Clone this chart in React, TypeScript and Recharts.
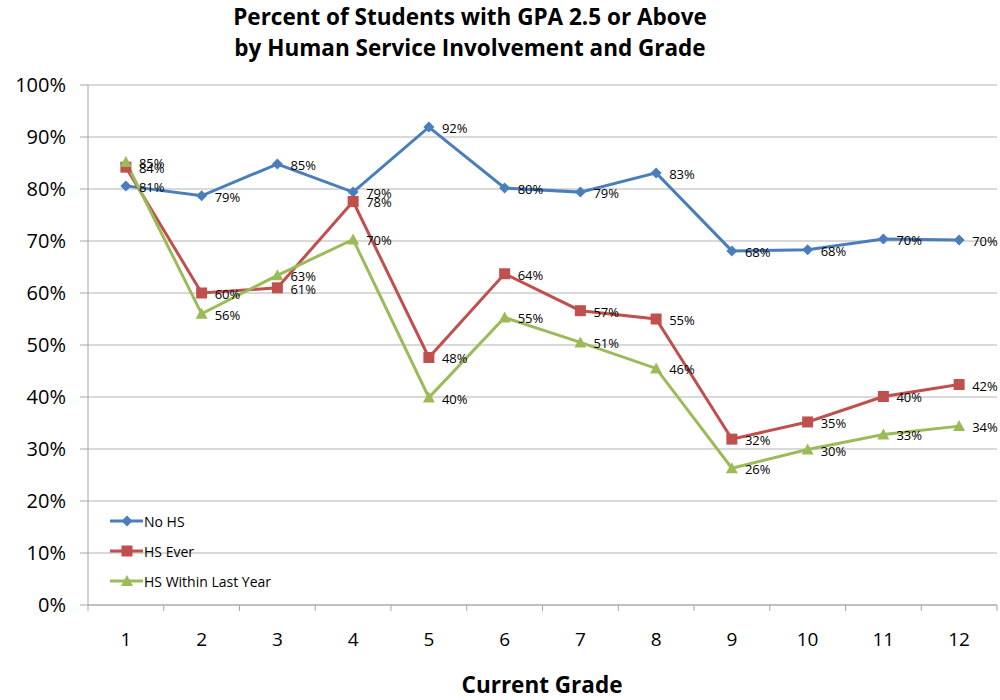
import React from "react";
import { LineChart, Line, XAxis, YAxis, CartesianGrid, Legend, LabelList } from "recharts";

const grades = [1, 2, 3, 4, 5, 6, 7, 8, 9, 10, 11, 12];
const noHS = [80.6, 78.7, 84.8, 79.4, 91.9, 80.2, 79.4, 83.1, 68.1, 68.3, 70.4, 70.2];
const hsEver = [84.2, 60.0, 61.0, 77.6, 47.6, 63.7, 56.6, 55.0, 31.9, 35.2, 40.1, 42.4];
const hsLastYear = [85.2, 56.0, 63.4, 70.3, 39.9, 55.3, 50.5, 45.5, 26.3, 29.9, 32.8, 34.4];
const yTicks = [0, 10, 20, 30, 40, 50, 60, 70, 80, 90, 100];
const boundaryTicks = [0.5, 1.5, 2.5, 3.5, 4.5, 5.5, 6.5, 7.5, 8.5, 9.5, 10.5, 11.5, 12.5];

const data = grades.map((g, i) => ({
  grade: g,
  noHS: noHS[i],
  hsEver: hsEver[i],
  hsLastYear: hsLastYear[i],
}));

const FONT = "'Open Sans', Lato, sans-serif";
const BLUE = "#4A7EBB";
const RED = "#C0504D";
const GREEN = "#9BBB59";

const Diamond = ({ cx, cy, fill }: any) => (
  <path d={`M${cx},${cy - 5.5} L${cx + 5.5},${cy} L${cx},${cy + 5.5} L${cx - 5.5},${cy} Z`} fill={fill} />
);
const Square = ({ cx, cy, fill }: any) => (
  <rect x={cx - 5.5} y={cy - 5.5} width={11} height={11} fill={fill} />
);
const Triangle = ({ cx, cy, fill }: any) => (
  <path d={`M${cx},${cy - 6} L${cx + 6},${cy + 5} L${cx - 6},${cy + 5} Z`} fill={fill} />
);

const makeDot = (Shape: any, fill: string) => (props: any) => {
  if (props.cx == null || props.cy == null) return <g key={props.index} />;
  return <Shape key={props.index} cx={props.cx} cy={props.cy} fill={fill} />;
};

const renderLabel = (props: any) => {
  const { x, y, value } = props;
  return (
    <text x={x + 13} y={y + 1} dominantBaseline="central" fontSize={13} fontFamily={FONT} fill="#000">
      {Math.round(value)}%
    </text>
  );
};

const legendItems = [
  { name: "No HS", color: BLUE, Shape: Diamond },
  { name: "HS Ever", color: RED, Shape: Square },
  { name: "HS Within Last Year", color: GREEN, Shape: Triangle },
];

const renderLegend = () => (
  <div style={{ display: "flex", flexDirection: "column" }}>
    {legendItems.map((it) => (
      <div key={it.name} style={{ display: "flex", alignItems: "center", height: 30 }}>
        <svg width={36} height={14}>
          <line x1={2} y1={7} x2={35} y2={7} stroke={it.color} strokeWidth={3} />
          <it.Shape cx={19} cy={7} fill={it.color} />
        </svg>
        <span style={{ fontFamily: FONT, fontSize: 14, color: "#000" }}>{it.name}</span>
      </div>
    ))}
  </div>
);

export default function App() {
  return (
    <div style={{ position: "absolute", left: 0, top: 0, width: 1000, height: 700, background: "#fff" }}>
      <div
        style={{
          position: "absolute",
          left: 0,
          top: 1,
          width: 940,
          textAlign: "center",
          fontFamily: FONT,
          fontWeight: 700,
          fontSize: 22.5,
          lineHeight: "31px",
          color: "#000",
        }}
      >
        Percent of Students with GPA 2.5 or Above
        <br />
        by Human Service Involvement and Grade
      </div>
      <LineChart width={1000} height={700} data={data} margin={{ top: 85, right: 3, bottom: 50, left: 0 }}>
        <CartesianGrid vertical={false} stroke="#B3B3B3" strokeWidth={1} />
        <XAxis
          xAxisId="aMarks"
          dataKey="grade"
          type="number"
          domain={[0.5, 12.5]}
          ticks={boundaryTicks}
          height={1}
          tickSize={6}
          tick={() => <g />}
          stroke="#A6A6A6"
          interval={0}
        />
        <XAxis
          xAxisId="bLabels"
          dataKey="grade"
          type="number"
          domain={[0.5, 12.5]}
          ticks={grades}
          height={44}
          axisLine={false}
          tickLine={false}
          tickSize={0}
          tickMargin={27}
          interval={0}
          tick={{ fontSize: 19, fontFamily: FONT, fill: "#000" }}
        />
        <YAxis
          width={88}
          domain={[0, 100]}
          ticks={yTicks}
          interval={0}
          tickFormatter={(v: number) => `${v}%`}
          tickSize={8}
          tickMargin={14}
          stroke="#A6A6A6"
          tick={{ fontSize: 20, fontFamily: FONT, fill: "#000" }}
        />
        <Legend
          layout="vertical"
          align="center"
          verticalAlign="middle"
          content={renderLegend}
          wrapperStyle={{ position: "absolute", left: 108, top: 506, width: "auto", height: "auto" }}
        />
        <Line
          xAxisId="bLabels"
          dataKey="noHS"
          name="No HS"
          stroke={BLUE}
          strokeWidth={3}
          dot={makeDot(Diamond, BLUE)}
          activeDot={false}
          isAnimationActive={false}
        >
          <LabelList dataKey="noHS" content={renderLabel} />
        </Line>
        <Line
          xAxisId="bLabels"
          dataKey="hsEver"
          name="HS Ever"
          stroke={RED}
          strokeWidth={3}
          dot={makeDot(Square, RED)}
          activeDot={false}
          isAnimationActive={false}
        >
          <LabelList dataKey="hsEver" content={renderLabel} />
        </Line>
        <Line
          xAxisId="bLabels"
          dataKey="hsLastYear"
          name="HS Within Last Year"
          stroke={GREEN}
          strokeWidth={3}
          dot={makeDot(Triangle, GREEN)}
          activeDot={false}
          isAnimationActive={false}
        >
          <LabelList dataKey="hsLastYear" content={renderLabel} />
        </Line>
      </LineChart>
      <div
        style={{
          position: "absolute",
          left: 0,
          top: 669,
          width: 1084,
          textAlign: "center",
          fontFamily: FONT,
          fontWeight: 700,
          fontSize: 22.5,
          color: "#000",
        }}
      >
        Current Grade
      </div>
    </div>
  );
}
